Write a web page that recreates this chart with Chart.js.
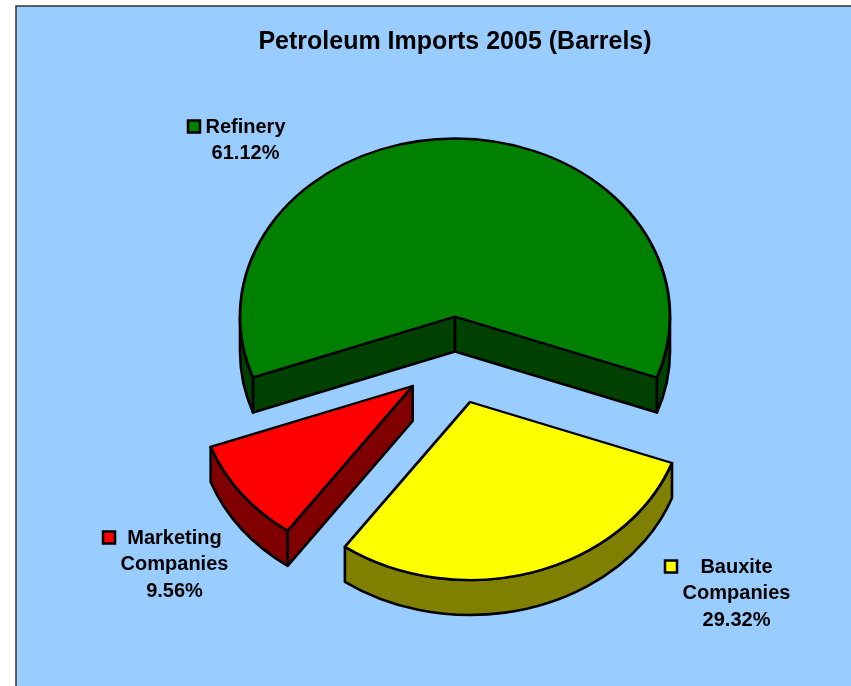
<!DOCTYPE html>
<html>
<head>
<meta charset="utf-8">
<style>html,body{margin:0;padding:0;background:#fff}canvas{display:block}</style>
<script src="https://cdn.jsdelivr.net/npm/chart.js@4"></script>
</head>
<body>
<canvas id="c" width="851" height="686"></canvas>
<script>
const chartTitle = 'Petroleum Imports 2005 (Barrels)';
const categories = ['Refinery', 'Bauxite Companies', 'Marketing Companies'];
const shares = [61.12, 29.32, 9.56];
const topColors = ['#008000', '#FFFF00', '#FF0000'];
const wallColors = ['#004000', '#808000', '#800000'];
const shiftX = [0, 15, -42.3];
const shiftY = [-45.5, 40, 24];
const labelLines = [['Refinery', '61.12%'], ['Bauxite', 'Companies', '29.32%'], ['Marketing', 'Companies', '9.56%']];
const labelCenterX = [245.5, 736.5, 174.5];
const labelFirstY = [127, 567, 538];
const keyLeft = [188, 665, 103];
const keyTop = [120.5, 560.5, 531.5];

const FLATTEN = 0.828, DEPTH = 35, FONT = 'bold 20px "Liberation Sans", Arial, sans-serif';

const pie3d = {
  id: 'pie3d',
  beforeDraw(chart) {
    const c = chart.ctx;
    c.save();
    c.fillStyle = '#99CCFF';
    c.fillRect(16, 6, 900, 800);
    c.strokeStyle = '#333333';
    c.lineWidth = 1.5;
    c.strokeRect(16, 6, 900, 800);
    c.restore();
  },
  beforeDatasetDraw(chart, args) {
    const c = chart.ctx, arcs = args.meta.data;
    const cy = (chart.chartArea.top + chart.chartArea.bottom) / 2;
    arcs.forEach((arc, i) => {
      const s = arc.startAngle, e = arc.endAngle, R = arc.outerRadius;
      const ex = arc.x + shiftX[i], ey = cy + shiftY[i], ry = R * FLATTEN;
      c.save();
      c.fillStyle = wallColors[i];
      c.strokeStyle = '#000';
      c.lineWidth = 2.6;
      c.lineJoin = 'round';
      const quad = a => {
        const px = ex + R * Math.cos(a), py = ey + ry * Math.sin(a);
        c.beginPath();
        c.moveTo(ex, ey);
        c.lineTo(px, py);
        c.lineTo(px, py + DEPTH);
        c.lineTo(ex, ey + DEPTH);
        c.closePath();
        c.fill();
        c.stroke();
      };
      if (Math.cos(s) < 0) quad(s);
      if (Math.cos(e) > 0) quad(e);
      for (let n = 0; n < 3; n++) {
        const a0 = Math.max(s, 2 * Math.PI * n), a1 = Math.min(e, 2 * Math.PI * n + Math.PI);
        if (a1 <= a0) continue;
        c.beginPath();
        c.ellipse(ex, ey, R, ry, 0, a0, a1);
        c.ellipse(ex, ey + DEPTH, R, ry, 0, a1, a0, true);
        c.closePath();
        c.fill();
        c.stroke();
      }
      c.restore();
    });
    arcs.forEach((arc, i) => {
      c.save();
      c.translate(shiftX[i], cy + shiftY[i]);
      c.scale(1, FLATTEN);
      c.translate(0, -cy);
      arc.draw(c);
      c.restore();
    });
    return false;
  },
  afterDraw(chart) {
    const c = chart.ctx;
    c.save();
    c.font = FONT;
    c.fillStyle = '#000';
    c.textAlign = 'center';
    c.textBaseline = 'middle';
    labelLines.forEach((lines, i) => {
      lines.forEach((t, j) => c.fillText(t, labelCenterX[i], labelFirstY[i] + j * 26.5));
      c.fillStyle = topColors[i];
      c.strokeStyle = '#000';
      c.lineWidth = 2.5;
      c.fillRect(keyLeft[i], keyTop[i], 12, 12);
      c.strokeRect(keyLeft[i], keyTop[i], 12, 12);
      c.fillStyle = '#000';
    });
    c.restore();
  }
};

new Chart(document.getElementById('c'), {
  type: 'pie',
  plugins: [pie3d],
  data: {
    labels: categories,
    datasets: [{
      data: shares,
      backgroundColor: topColors,
      borderColor: '#000',
      borderWidth: 2.8,
      borderJoinStyle: 'round',
      radius: 215,
      clip: false
    }]
  },
  options: {
    responsive: false,
    animation: false,
    rotation: 250,
    layout: { padding: { left: 59, right: 0, top: 0, bottom: 19 } },
    plugins: {
      legend: { display: false },
      tooltip: { enabled: false },
      title: {
        display: true,
        text: chartTitle,
        color: '#000',
        font: { family: '"Liberation Sans", Arial, sans-serif', size: 25, weight: 'bold' },
        padding: { top: 27, bottom: 0 }
      }
    }
  }
});
</script>
</body>
</html>
